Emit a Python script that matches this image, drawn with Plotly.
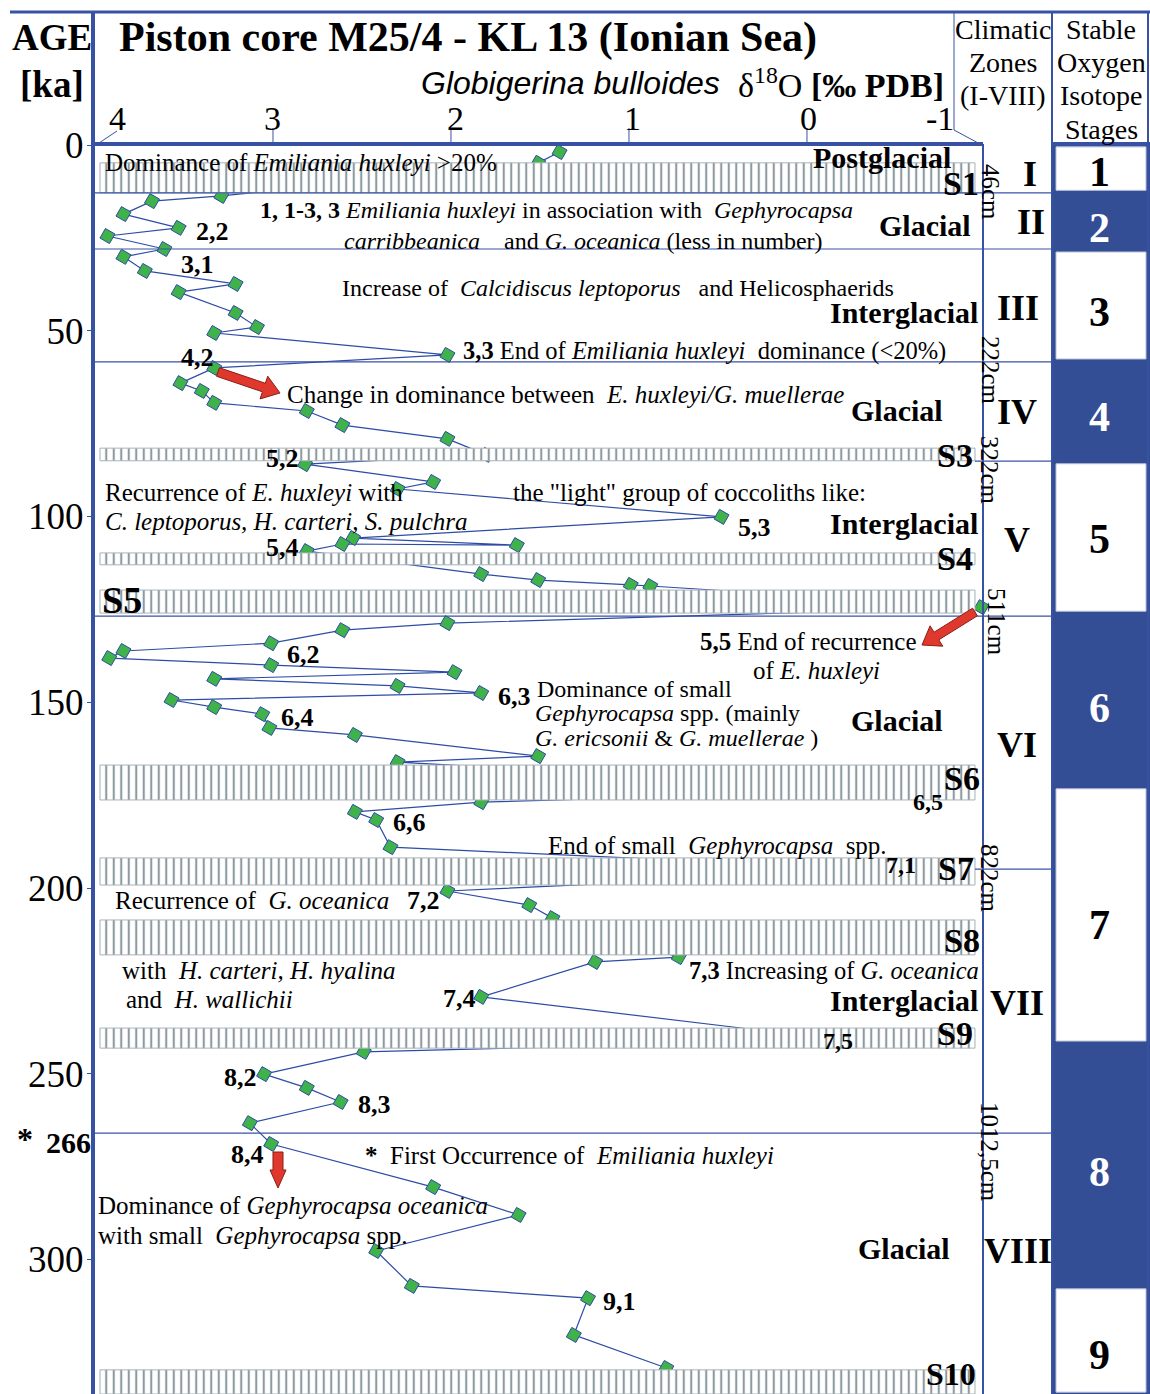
import math
import plotly.graph_objects as go

W, H = 1150, 1394
SERIF = "Liberation Serif"
SANS = "Liberation Sans"
BLUE = "#3852a3"
DARKBLUE = "#344e96"
GREEN = "#3fb24a"
LINEBLUE = "#2d4ca6"
HATCH = "#8d9aa1"
RED = "#e0382c"

# ---------------- data ----------------
d18o = [1.39, 1.51, 3.29, 3.68, 3.84, 3.53, 3.93, 3.61, 3.84, 3.72,
        3.21, 3.53, 3.21, 3.09, 3.33, 2.02, 3.33, 3.52, 3.40, 3.33,
        2.81, 2.61, 2.02, 1.80, 2.82, 2.10, 2.30, 0.48, 2.55, 1.63,
        2.61, 2.81, 1.83, 1.51, 0.99, 0.88, -0.98, 2.02, 2.61, 3.01,
        3.84, 3.92, 3.01, 1.98, 3.33, 2.30, 1.83, 3.57, 3.33, 3.06,
        3.02, 2.54, 1.51, 2.30, -0.52, 1.83, 2.54, 2.42, 2.34, -0.52,
        2.02, 1.56, 1.43, 0.72, 1.19, 1.83, -0.19, 2.49, 3.05, 2.81,
        2.62, 3.13, 3.01, 2.10, 1.62, 2.42, 2.22, 1.23, 1.31, 0.79]
age = [1.9, 4.8, 13.7, 15.1, 18.6, 22.3, 24.5, 28.0, 30.1, 33.9,
       37.4, 39.6, 45.2, 49.0, 50.6, 56.5, 60.0, 64.1, 66.2, 69.4,
       71.6, 75.4, 79.1, 83.4, 85.9, 90.7, 92.6, 100.1, 105.8, 107.7,
       107.4, 109.3, 115.5, 117.1, 118.4, 118.7, 124.4, 128.7, 130.6, 134.1,
       136.2, 138.1, 140.0, 141.9, 143.7, 145.6, 147.5, 149.4, 151.3, 153.2,
       156.9, 158.8, 164.5, 166.1, 173.6, 176.9, 179.5, 181.7, 189.0, 195.2,
       200.8, 204.6, 208.1, 218.6, 219.9, 229.3, 240.9, 244.1, 250.1, 253.8,
       257.6, 263.3, 268.9, 280.5, 288.0, 297.7, 307.1, 310.4, 320.3, 329.2]

# sapropel (hatched) layers
sap_names = ["S1", "S3", "S4", "S5", "S6", "S7", "S8", "S9", "S10"]
sap_top = [4.8, 81.6, 109.8, 119.8, 166.9, 191.9, 208.6, 237.7, 329.7]
sap_bot = [12.9, 85.0, 113.0, 126.0, 176.3, 199.2, 218.0, 243.1, 336.2]

# climatic zones boundaries (ka)
zone_bounds = [12.9, 28.0, 58.4, 85.1, 126.8, 194.9, 266.0]
zone_full = [True, True, True, False, True, False, True]
zone_labels = ["I", "II", "III", "IV", "V", "VI", "VII", "VIII"]

# marine isotope stages
stage_bounds = [0.0, 12.7, 28.3, 58.1, 85.3, 126.0, 172.8, 241.7, 307.4, 336.2]
stage_labels = ["1", "2", "3", "4", "5", "6", "7", "8", "9"]

age_ticks = [0, 50, 100, 150, 200, 250, 300]
d18o_ticks = [4, 3, 2, 1, 0, -1]
d18o_tick_labels = ["4", "3", "2", "1", "0", "-1"]

AGE_MAX = 336.2
X_RANGE = [4.0, -0.989]
HATCH_LEFT, HATCH_RIGHT = 3.972, -0.944


def px(x):
    return x / W


def py(y):
    return 1 - y / H


fig = go.Figure()

fig.add_trace(go.Scatter(
    x=d18o, y=age, mode="lines+markers", xaxis="x", yaxis="y",
    line=dict(color=LINEBLUE, width=1.2),
    marker=dict(symbol="square", angle=30, size=11, color=GREEN,
                line=dict(color=LINEBLUE, width=1)),
    cliponaxis=False, hoverinfo="skip"))

centers = [(a + b) / 2 for a, b in zip(sap_top, sap_bot)]
thick = [b - a for a, b in zip(sap_top, sap_bot)]
fig.add_trace(go.Bar(
    orientation="h", y=centers, width=thick,
    base=[HATCH_RIGHT] * len(centers),
    x=[HATCH_LEFT - HATCH_RIGHT] * len(centers),
    xaxis="x2", yaxis="y2", hoverinfo="skip",
    marker=dict(color="white", line=dict(color="#a9b3b8", width=1),
                pattern=dict(shape="|", fgcolor=HATCH, bgcolor="white",
                             size=7.5, solidity=0.28, fillmode="replace"))))

shapes = []
ann = []


def line(x0, y0, x1, y1, w=1.2, c=BLUE):
    shapes.append(dict(type="line", xref="paper", yref="paper",
                       x0=px(x0), y0=py(y0), x1=px(x1), y1=py(y1),
                       line=dict(color=c, width=w)))


def txt(s, x, y, size=25, anchor="left", family=SERIF, color="black", angle=0):
    ann.append(dict(text=s, x=px(x), y=py(y), xref="paper", yref="paper",
                    xanchor=anchor, yanchor="middle", showarrow=False,
                    textangle=angle,
                    font=dict(family=family, size=size, color=color)))


def block_arrow(tx, ty, hx, hy, bw=4.5, hw=12, hl=17):
    dx, dy = hx - tx, hy - ty
    L = math.hypot(dx, dy)
    ux, uy = dx / L, dy / L
    nx, ny = -uy, ux
    bx, by = hx - ux * hl, hy - uy * hl
    pts = [(tx + nx * bw, ty + ny * bw), (bx + nx * bw, by + ny * bw),
           (bx + nx * hw, by + ny * hw), (hx, hy),
           (bx - nx * hw, by - ny * hw), (bx - nx * bw, by - ny * bw),
           (tx - nx * bw, ty - ny * bw)]
    path = "M " + " L ".join(f"{px(a):.5f},{py(b):.5f}" for a, b in pts) + " Z"
    shapes.append(dict(type="path", xref="paper", yref="paper", path=path,
                       fillcolor=RED, line=dict(color="#8a1f18", width=1)))


# stage column
shapes.append(dict(type="rect", xref="paper", yref="y", x0=px(1052), x1=px(1150),
                   y0=0, y1=AGE_MAX, fillcolor=DARKBLUE, line=dict(width=0), layer="below"))
for i in range(len(stage_labels)):
    if i % 2 == 0:
        shapes.append(dict(type="rect", xref="paper", yref="y", x0=px(1056), x1=px(1146),
                           y0=stage_bounds[i] + 0.5, y1=stage_bounds[i + 1] - 0.5,
                           fillcolor="white", line=dict(color="#b9c1d9", width=1), layer="below"))

# zone boundary lines
for b, full in zip(zone_bounds, zone_full):
    shapes.append(dict(type="line", xref="paper", yref="y",
                       x0=px(95 if full else 975), x1=px(1052), y0=b, y1=b,
                       line=dict(color=BLUE, width=1.2)))

# frame
line(10, 12, 1150, 12, 3)
line(93, 11, 93, H, 4)
line(93, 144, 983, 144, 4)
line(1052, 144, 1150, 144, 4)
line(983, 144, 983, H, 2)
line(1052, 12, 1052, H, 2)
line(1148, 12, 1148, H, 2)
line(954, 12, 954, 130, 1)
line(954, 130, 980, 144, 1)

# x tick marks
for v in d18o_ticks[1:5]:
    shapes.append(dict(type="line", xref="x", yref="paper", x0=v, x1=v,
                       y0=py(128), y1=py(143), line=dict(color=BLUE, width=1)))
line(117, 131, 99, 143, 1)

tick_label_px = [117, 272, 455, 632, 808, 940]
for lab, x in zip(d18o_tick_labels, tick_label_px):
    txt(lab, x, 118, 34, "center")

# header
txt("<b>AGE</b>", 52, 38, 37, "center")
txt("<b>[ka]</b>", 52, 84, 37, "center")
txt("<b>Piston core M25/4 - KL 13 (Ionian Sea)</b>", 468, 38, 42, "center")
txt("<i>Globigerina bulloides</i>", 722, 83, 32, "right", SANS)
txt("δ<sup>18</sup>O <b>[‰ PDB]</b>", 736, 83, 34, "left")
for s, y in zip(["Climatic", "Zones", "(I-VIII)"], [30, 63, 96]):
    txt(s, 1003, y, 28, "center")
for s, y in zip(["Stable", "Oxygen", "Isotope", "Stages"], [30, 63, 96, 129]):
    txt(s, 1101, y, 28, "center")

# zone & stage labels
zone_px = [(1030, 174), (1031, 222), (1018, 308), (1017, 412), (1017, 540),
           (1017, 745), (1017, 1003), (1018, 1251)]
for lab, (x, y) in zip(zone_labels, zone_px):
    txt("<b>" + lab + "</b>", x, y, 36, "center")
stage_py = [172, 228, 312, 417, 539, 708, 925, 1172, 1355]
for i, (lab, y) in enumerate(zip(stage_labels, stage_py)):
    txt("<b>" + lab + "</b>", 1099, y, 42, "center", color="black" if i % 2 == 0 else "white")

# depth labels
for s, x, y in [("46cm", 990, 192), ("222cm", 990, 370), ("322cm", 990, 470),
                ("511cm", 997, 622), ("822cm", 990, 878), ("1012,5cm", 990, 1152)]:
    txt(s, x, y, 25, "center", angle=90)

# sapropel labels
for s, x, y, sz, anc in [("S1", 981, 183, 34, "right"), ("S3", 975, 455, 34, "right"),
                         ("S4", 975, 558, 34, "right"), ("S5", 100, 600, 38, "left"),
                         ("S6", 982, 778, 34, "right"), ("S7", 976, 868, 34, "right"),
                         ("S8", 982, 940, 34, "right"), ("S9", 975, 1033, 34, "right"),
                         ("S10", 978, 1374, 32, "right")]:
    txt("<b>" + s + "</b>", x, y, sz, anc)

# climate words
txt("<b>Postglacial</b>", 953, 157, 30, "right")
txt("<b>Glacial</b>", 877, 226, 30)
txt("<b>Interglacial</b>", 980, 312, 30, "right")
txt("<b>Glacial</b>", 849, 410, 30)
txt("<b>Interglacial</b>", 980, 523, 30, "right")
txt("<b>Glacial</b>", 849, 720, 30)
txt("<b>Interglacial</b>", 980, 1001, 30, "right")
txt("<b>Glacial</b>", 856, 1248, 30)

# isotope event labels
for s, x, y in [("2,2", 194, 231), ("3,1", 179, 265), ("4,2", 179, 357), ("5,2", 264, 458),
                ("5,3", 736, 527), ("5,4", 264, 548), ("6,2", 285, 654), ("6,3", 496, 696),
                ("6,4", 279, 717), ("6,6", 391, 823), ("7,2", 405, 900), ("7,4", 441, 998),
                ("8,2", 222, 1077), ("8,3", 356, 1104), ("8,4", 229, 1154), ("9,1", 601, 1301)]:
    txt("<b>" + s + "</b>", x, y, 26)
for s, x, y in [("6,5", 911, 802), ("7,1", 884, 865), ("7,5", 821, 1041)]:
    txt("<b>" + s + "</b>", x, y, 24)

# descriptive text
txt("Dominance of <i>Emiliania huxleyi</i> &gt;20%", 103, 162)
txt("<b>1, 1-3, 3</b> <i>Emiliania huxleyi</i> in association with  <i>Gephyrocapsa</i>", 258, 210, 24)
txt("<i>carribbeanica</i>    and <i>G. oceanica</i> (less in number)", 342, 241, 24)
txt("Increase of  <i>Calcidiscus leptoporus</i>   and Helicosphaerids", 340, 288, 24)
txt("<b>3,3</b> End of <i>Emiliania huxleyi</i>  dominance (&lt;20%)", 461, 351, 24.5)
txt("Change in dominance between  <i>E. huxleyi/G. muellerae</i>", 285, 394)
txt("Recurrence of <i>E. huxleyi</i> with", 103, 492)
txt("the \"light\" group of coccoliths like:", 511, 492)
txt("<i>C. leptoporus, H. carteri, S. pulchra</i>", 103, 521)
txt("<b>5,5</b> End of recurrence", 698, 641)
txt("of <i>E. huxleyi</i>", 751, 670)
txt("Dominance of small", 535, 689, 24)
txt("<i>Gephyrocapsa</i> spp. (mainly", 533, 713, 24)
txt("<i>G. ericsonii</i> &amp; <i>G. muellerae</i> )", 533, 738, 24)
txt("End of small  <i>Gephyrocapsa</i>  spp.", 546, 845)
txt("Recurrence of  <i>G. oceanica</i>", 113, 900)
txt("with  <i>H. carteri, H. hyalina</i>", 120, 970)
txt("and  <i>H. wallichii</i>", 124, 999)
txt("<b>7,3</b> Increasing of <i>G. oceanica</i>", 687, 970, 24.5)
txt("<b>*</b>  First Occurrence of  <i>Emiliania huxleyi</i>", 363, 1155)
txt("Dominance of <i>Gephyrocapsa oceanica</i>", 96, 1205)
txt("with small  <i>Gephyrocapsa</i> spp.", 96, 1235)

# special age label
txt("<b>*</b>", 25, 1139, 32, "center")
txt("<b>266</b>", 68, 1142, 30, "center")

# red arrows
block_arrow(218, 372, 280, 393)
block_arrow(975, 612, 922, 645)
block_arrow(278, 1152, 278, 1188, bw=5, hw=8, hl=18)

fig.update_layout(
    width=W, height=H, margin=dict(l=0, r=0, t=0, b=0, pad=0, autoexpand=False),
    paper_bgcolor="white", plot_bgcolor="white", showlegend=False,
    barmode="overlay",
    xaxis=dict(domain=[px(95), px(983)], range=X_RANGE, showgrid=False, automargin=False,
               zeroline=False, showticklabels=False, ticks="", anchor="y"),
    yaxis=dict(domain=[0, py(145)], range=[AGE_MAX, 0], showgrid=False, automargin=False,
               zeroline=False, tickvals=age_ticks, ticks="outside", ticklen=7,
               tickcolor=BLUE, tickwidth=1, anchor="x", ticklabelstandoff=-4,
               tickfont=dict(family=SERIF, size=37, color="black")),
    xaxis2=dict(overlaying="x", range=X_RANGE, visible=False, anchor="y2", automargin=False),
    yaxis2=dict(overlaying="y", range=[AGE_MAX, 0], visible=False, anchor="x2", automargin=False),
    shapes=shapes, annotations=ann,
)

fig.write_html(
    "out.html",
    config={"displayModeBar": False, "staticPlot": True},
    post_script=("var gd=document.getElementById('{plot_id}');"
                 "gd.style.position='absolute';gd.style.top='0';gd.style.left='0';"
                 "document.body.style.margin='0';document.body.style.overflow='hidden';"),
)
